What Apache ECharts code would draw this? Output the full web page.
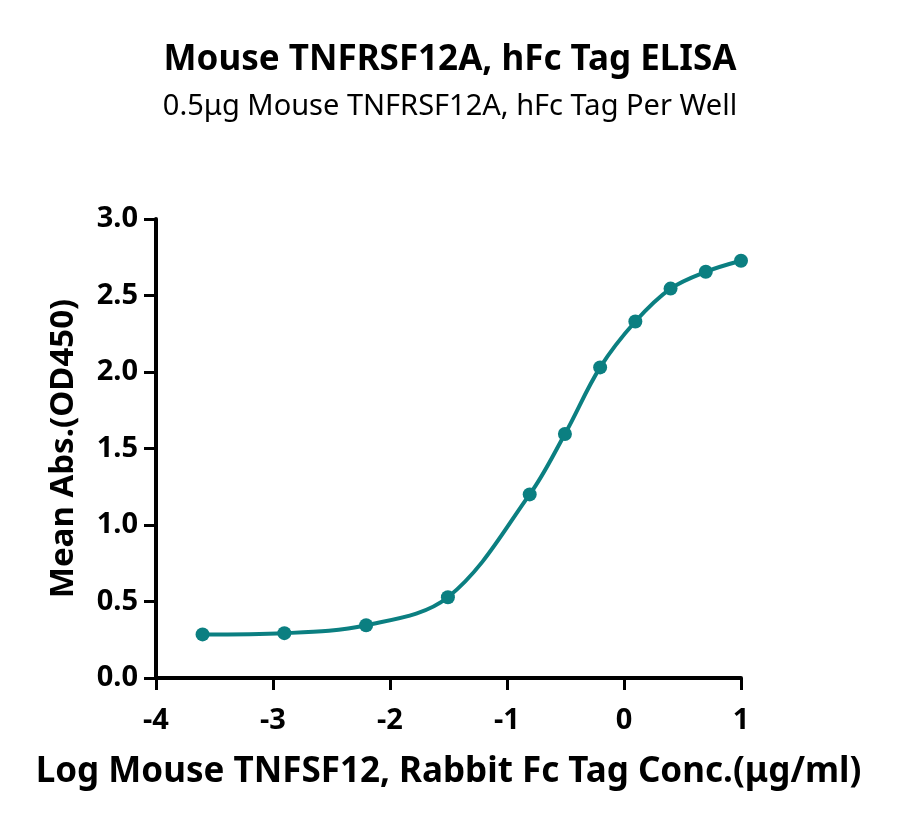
<!DOCTYPE html>
<html>
<head>
<meta charset="utf-8">
<script src="https://cdn.jsdelivr.net/npm/echarts@6/dist/echarts.min.js"></script>
<style>
  html, body { margin: 0; padding: 0; background: #fff; }
  #chart { width: 900px; height: 829px; }
</style>
</head>
<body>
<div id="chart"></div>
<script>
// log concentration (ug/ml) and mean OD450
var logConc = [-3.602, -2.903, -2.204, -1.505, -0.806, -0.505, -0.204, 0.097, 0.398, 0.699, 1.0];
var meanAbs = [0.285, 0.293, 0.345, 0.528, 1.2, 1.595, 2.03, 2.33, 2.545, 2.655, 2.727];

var teal = '#0b7f81';
var font = 'Noto Sans';

var chart = echarts.init(document.getElementById('chart'));

var points = logConc.map(function (x, i) { return [x, meanAbs[i]]; });

var option = {
  animation: false,
  backgroundColor: '#fff',
  title: [
    {
      text: 'Mouse TNFRSF12A, hFc Tag ELISA',
      left: 'center',
      top: 38,
      textStyle: { fontFamily: font, fontWeight: 'bold', fontSize: 35, color: '#000' }
    },
    {
      text: '0.5μg Mouse TNFRSF12A, hFc Tag Per Well',
      left: 'center',
      top: 87,
      textStyle: { fontFamily: font, fontWeight: 'normal', fontSize: 29, color: '#000' }
    }
  ],
  grid: { left: 156, right: 159, top: 219, bottom: 151, containLabel: false },
  xAxis: {
    type: 'value',
    min: -4,
    max: 1,
    interval: 1,
    name: 'Log Mouse TNFSF12, Rabbit Fc Tag Conc.(μg/ml)',
    nameLocation: 'middle',
    nameGap: 77,
    nameTextStyle: { fontFamily: font, fontWeight: 'bold', fontSize: 35, color: '#000' },
    axisLine: { show: true, onZero: false, lineStyle: { color: '#000', width: 4 } },
    axisTick: { show: true, length: 12, lineStyle: { color: '#000', width: 3 } },
    axisLabel: { fontFamily: font, fontWeight: 'bold', fontSize: 29, color: '#000', margin: 28 },
    splitLine: { show: false }
  },
  yAxis: {
    type: 'value',
    min: 0,
    max: 3,
    interval: 0.5,
    name: 'Mean Abs.(OD450)',
    nameLocation: 'middle',
    nameGap: 76,
    nameTextStyle: { fontFamily: font, fontWeight: 'bold', fontSize: 33, color: '#000' },
    axisLine: { show: true, onZero: false, lineStyle: { color: '#000', width: 4 } },
    axisTick: { show: true, length: 12, lineStyle: { color: '#000', width: 3 } },
    axisLabel: {
      fontFamily: font, fontWeight: 'bold', fontSize: 29, color: '#000', margin: 18,
      formatter: function (v) { return v.toFixed(1); }
    },
    splitLine: { show: false }
  },
  series: [
    {
      type: 'line',
      data: points,
      smooth: 0.35,
      symbol: 'circle',
      symbolSize: 14,
      itemStyle: { color: teal },
      lineStyle: { color: teal, width: 4 }
    }
  ]
};

chart.setOption(option);
</script>
</body>
</html>
